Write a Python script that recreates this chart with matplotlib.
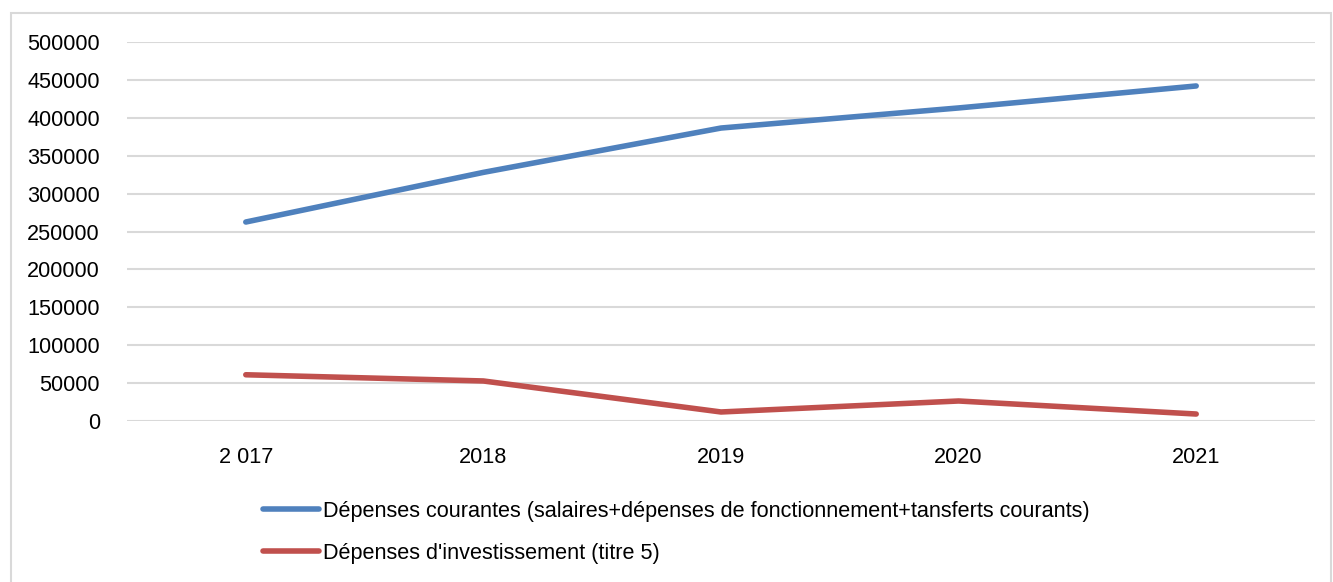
"""
Evolution des dépenses courantes et d'investissement, 2017-2021.
"""
import matplotlib
matplotlib.use("Agg")
import matplotlib.pyplot as plt
from matplotlib.patches import Rectangle

years = ["2 017", "2018", "2019", "2020", "2021"]
depenses_courantes = [262500, 328000, 386500, 413000, 442000]
depenses_investissement = [61000, 52800, 11900, 26400, 9200]

label_courantes = "Dépenses courantes (salaires+dépenses de fonctionnement+tansferts courants)"
label_invest = "Dépenses d'investissement (titre 5)"

plt.rcParams['font.family'] = ['Liberation Sans', 'DejaVu Sans']


def produce_plot():
    fig = plt.figure(figsize=(13.33, 5.82), dpi=100)
    W, H = 1333, 582
    fs = 15.6

    # light grey frame round the chart
    fig.patches.append(Rectangle((11 / W, 1 - 600 / H), 1320 / W, 587 / H,
                                 transform=fig.transFigure, fill=False,
                                 edgecolor="#d9d9d9", linewidth=1.5))

    ax = fig.add_axes([127 / W, 1 - 421 / H, (1315 - 127) / W, (421 - 42) / H])
    x = range(len(years))
    ax.plot(x, depenses_courantes, color="#4F81BD", linewidth=4,
            solid_capstyle="round", solid_joinstyle="round", label=label_courantes)
    ax.plot(x, depenses_investissement, color="#C0504D", linewidth=4,
            solid_capstyle="round", solid_joinstyle="round", label=label_invest)

    ax.set_xlim(-0.5, len(years) - 0.5)
    ax.set_ylim(0, 500000)
    ax.set_yticks(range(0, 500001, 50000))
    ax.set_xticks(list(x))
    ax.set_xticklabels(years)
    ax.grid(axis="y", color="#d9d9d9", linewidth=1.5)
    ax.set_axisbelow(True)
    for s in ax.spines.values():
        s.set_visible(False)
    ax.tick_params(axis="both", length=0, labelsize=fs)
    ax.tick_params(axis="y", pad=19.5)
    ax.tick_params(axis="x", pad=19)

    fig.legend(loc="upper left", bbox_to_anchor=(263 / W, 1 - 501 / H),
               frameon=False, fontsize=fs, handlelength=2.6, handletextpad=0.15,
               labelspacing=0.95, borderpad=0, borderaxespad=0)

    fig.savefig("out.png", dpi=100)


def main():
    produce_plot()


if __name__ == "__main__":
    main()
